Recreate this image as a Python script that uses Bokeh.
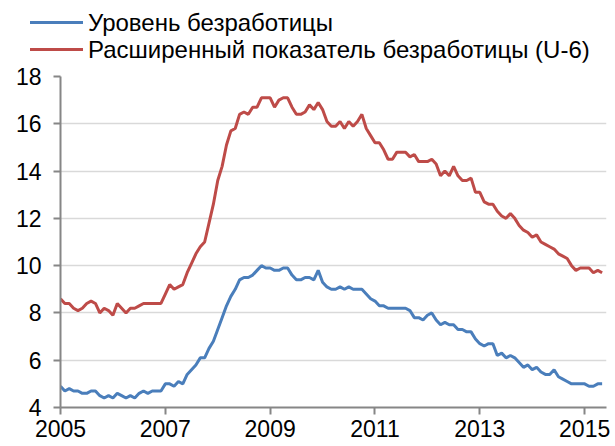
import numpy as np
from bokeh.plotting import figure
from bokeh.layouts import column
from bokeh.models import Range1d, FixedTicker, Div
from bokeh.embed import file_html
from bokeh.resources import INLINE

# Monthly series as plotted (first point sits on the "2005" tick)
u3 = [4.9,
      4.7, 4.8, 4.7, 4.7, 4.6, 4.6, 4.7, 4.7, 4.5, 4.4, 4.5, 4.4,
      4.6, 4.5, 4.4, 4.5, 4.4, 4.6, 4.7, 4.6, 4.7, 4.7, 4.7, 5.0,
      5.0, 4.9, 5.1, 5.0, 5.4, 5.6, 5.8, 6.1, 6.1, 6.5, 6.8, 7.3,
      7.8, 8.3, 8.7, 9.0, 9.4, 9.5, 9.5, 9.6, 9.8, 10.0, 9.9, 9.9,
      9.8, 9.8, 9.9, 9.9, 9.6, 9.4, 9.4, 9.5, 9.5, 9.4, 9.8, 9.3,
      9.1, 9.0, 9.0, 9.1, 9.0, 9.1, 9.0, 9.0, 9.0, 8.8, 8.6, 8.5,
      8.3, 8.3, 8.2, 8.2, 8.2, 8.2, 8.2, 8.1, 7.8, 7.8, 7.7, 7.9,
      8.0, 7.7, 7.5, 7.6, 7.5, 7.5, 7.3, 7.3, 7.2, 7.2, 6.9, 6.7,
      6.6, 6.7, 6.7, 6.2, 6.3, 6.1, 6.2, 6.1, 5.9, 5.7, 5.8, 5.6,
      5.7, 5.5, 5.4, 5.4, 5.6, 5.3, 5.2, 5.1, 5.0, 5.0, 5.0, 5.0,
      4.9, 4.9, 5.0, 5.0]

u6 = [8.6,
      8.4, 8.4, 8.2, 8.1, 8.2, 8.4, 8.5, 8.4, 8.0, 8.2, 8.1, 7.9,
      8.4, 8.2, 8.0, 8.2, 8.2, 8.3, 8.4, 8.4, 8.4, 8.4, 8.4, 8.8,
      9.2, 9.0, 9.1, 9.2, 9.7, 10.1, 10.5, 10.8, 11.0, 11.8, 12.6, 13.6,
      14.2, 15.1, 15.7, 15.8, 16.4, 16.5, 16.4, 16.7, 16.7, 17.1, 17.1, 17.1,
      16.7, 17.0, 17.1, 17.1, 16.7, 16.4, 16.4, 16.5, 16.8, 16.6, 16.9, 16.6,
      16.1, 15.9, 15.9, 16.1, 15.8, 16.1, 15.9, 16.1, 16.4, 15.8, 15.5, 15.2,
      15.2, 14.9, 14.5, 14.5, 14.8, 14.8, 14.8, 14.6, 14.7, 14.4, 14.4, 14.4,
      14.5, 14.3, 13.8, 14.0, 13.8, 14.2, 13.8, 13.6, 13.6, 13.7, 13.1, 13.1,
      12.7, 12.6, 12.6, 12.3, 12.1, 12.0, 12.2, 12.0, 11.7, 11.5, 11.4, 11.2,
      11.3, 11.0, 10.9, 10.8, 10.7, 10.5, 10.4, 10.3, 10.0, 9.8, 9.9, 9.9,
      9.9, 9.7, 9.8, 9.7]

start_year = 2005
x_ticks = [2005, 2007, 2009, 2011, 2013, 2015]
y_ticks = [4, 6, 8, 10, 12, 14, 16, 18]
names = ["Уровень безработицы", "Расширенный показатель безработицы (U-6)"]

months = np.arange(len(u3))
x = start_year + months / 12.0

FONT = "Liberation Sans"
BLUE = "#4a7ebb"
RED = "#be4b48"
W = 615
LEG_H = 62

# ---- legend strip ----
def legend_row(color, label):
    return ('<div style="display:flex;align-items:center;height:27px;">'
            f'<span style="display:inline-block;width:53px;height:3px;background:{color};'
            'margin-right:5px;"></span>'
            f'<span>{label}</span></div>')

legend_html = ('<div style="padding:9px 0 0 30px;font-family:\'Liberation Sans\';'
               'font-size:24px;line-height:27px;color:#000;white-space:nowrap;">'
               + legend_row(BLUE, names[0]) + legend_row(RED, names[1]) + '</div>')
legend_div = Div(text=legend_html, width=W, height=LEG_H, margin=0)

# ---- main chart ----
p = figure(width=W, height=446 - LEG_H, output_backend="svg", toolbar_location=None,
           x_range=Range1d(start_year, start_year + len(u3) / 12.0),
           y_range=Range1d(4, 18),
           min_border_left=60, min_border_right=9, min_border_top=14, min_border_bottom=39)

p.outline_line_color = None
p.background_fill_color = "white"
p.border_fill_color = "white"

p.line(x, u3, line_color=BLUE, line_width=3)
p.line(x, u6, line_color=RED, line_width=3)

p.xgrid.grid_line_color = None
p.ygrid.grid_line_color = "#d9d9d9"
p.ygrid.grid_line_width = 1.5

p.xaxis.ticker = FixedTicker(ticks=x_ticks)
p.xaxis.major_label_overrides = {t: str(t) for t in x_ticks}
p.yaxis.ticker = FixedTicker(ticks=y_ticks)

for ax in (p.xaxis[0], p.yaxis[0]):
    ax.axis_line_color = "#868686"
    ax.axis_line_width = 2
    ax.major_tick_line_color = "#868686"
    ax.major_tick_line_width = 2
    ax.major_tick_in = 0
    ax.major_tick_out = 7
    ax.minor_tick_line_color = None
    ax.major_label_text_font = FONT
    ax.major_label_text_font_size = "23px"
    ax.major_label_text_color = "black"

p.xaxis.major_label_standoff = 5
p.yaxis.major_label_standoff = 12

layout = column(legend_div, p, spacing=0)
open("out.html", "w").write(file_html(layout, INLINE))
